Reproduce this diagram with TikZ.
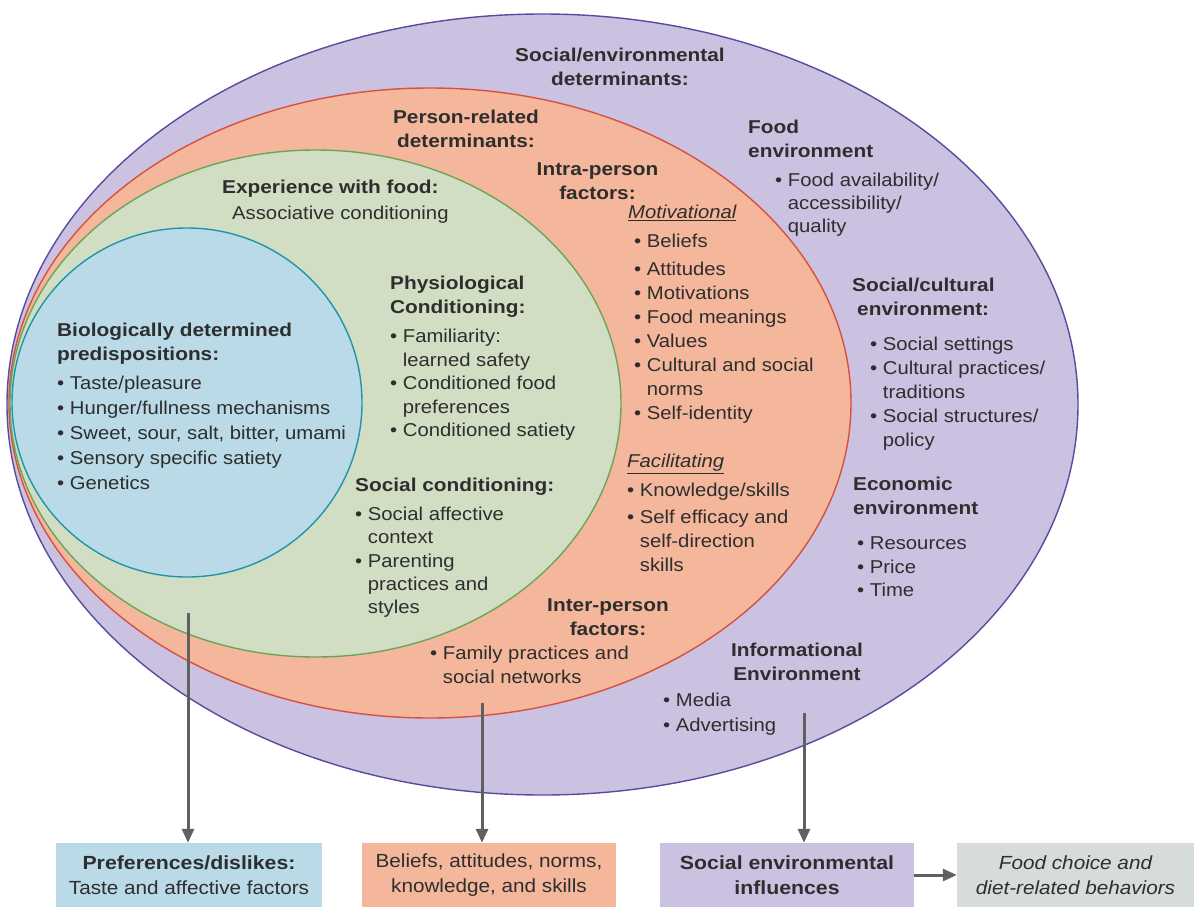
\documentclass[tikz,border=0pt]{standalone}
\usepackage{fontspec}
\setmainfont{Liberation Sans}[FakeStretch=1.09]
\newfontfamily\headfont{Liberation Sans}[FakeStretch=1.12]
\usetikzlibrary{shapes.geometric,arrows.meta}
\definecolor{purfill}{HTML}{CBC1E0}
\definecolor{purline}{HTML}{5A4B9E}
\definecolor{orfill}{HTML}{F4B79B}
\definecolor{orline}{HTML}{D8503F}
\definecolor{grfill}{HTML}{D2DEC4}
\definecolor{grline}{HTML}{6BA55A}
\definecolor{blfill}{HTML}{B9DAE6}
\definecolor{blline}{HTML}{1E96AA}
\definecolor{grayfill}{HTML}{D5DCDA}
\definecolor{txt}{HTML}{2E2E2E}
\definecolor{arr}{HTML}{606060}
\newcommand{\bulind}{\hphantom{• }}
\tikzset{
  ring/.style={ellipse, inner sep=0pt, line width=1.4pt},
  txtblock/.style={inner sep=0pt, anchor=base west, align=left, text=txt,
    font=\fontsize{18.6}{24}\selectfont},
  head/.style={txtblock, font=\headfont\bfseries\fontsize{18.6}{24}\selectfont},
  ital/.style={txtblock, font=\itshape\fontsize{18.6}{24}\selectfont},
  outbox/.style={rectangle, inner sep=0pt, minimum height=64pt, align=center,
    text=txt, font=\fontsize{19}{25}\selectfont},
  conn/.style={draw=arr, line width=3pt, -{Triangle[length=14pt,width=12pt]}}
}
\begin{document}
% note: the base anchor of a multi-line node is the baseline of its LAST line
\begin{tikzpicture}[x=1pt,y=-1pt]
\useasboundingbox (0,0) rectangle (1194,907);
% rings
\node[ring, draw=purline, fill=purfill, minimum width=1071pt, minimum height=781pt] (purple) at (542.5,404.5) {};
\node[ring, draw=orline, fill=orfill, minimum width=842pt, minimum height=630pt] (orange) at (430,403) {};
\node[ring, draw=grline, fill=grfill, minimum width=611pt, minimum height=507pt] (green) at (315.5,403.5) {};
\node[ring, draw=blline, fill=blfill, minimum width=350pt, minimum height=349pt] (blue) at (187,402.5) {};
% social / environmental
\node[head, anchor=base, align=center] (sed) at (620,85.5) {Social/environmental\\determinants:};
\node[head] (foodenv) at (748,157.5) {Food\\environment};
\node[txtblock, font=\fontsize{18.6}{23}\selectfont] (foodlist) at (775,232.5) {• Food availability/\\\bulind accessibility/\\\bulind quality};
\node[head] (socenv) at (852,315.5) {Social/cultural\\\hspace*{5pt}environment:};
\node[txtblock] (soclist) at (870,446.5) {• Social settings\\• Cultural practices/\\\bulind traditions\\• Social structures/\\\bulind policy};
\node[head] (econ) at (853,514.5) {Economic\\environment};
\node[txtblock, font=\fontsize{18.6}{23.5}\selectfont] (econlist) at (857,596.5) {• Resources\\• Price\\• Time};
\node[head, anchor=base, align=center] (info) at (797,680.5) {Informational\\Environment};
\node[txtblock, font=\fontsize{18.6}{25}\selectfont] (infolist) at (663,731.5) {• Media\\• Advertising};
% person related
\node[head, anchor=base, align=center] (prd) at (466,147.5) {Person-related\\determinants:};
\node[head, anchor=base, align=center] (intra) at (597.5,199.5) {Intra-person\\factors:};
\node[ital] (motiv) at (628,218.5) {\underline{Motivational}};
\node[txtblock] (motlist) at (634,419.5) {• Beliefs\\[4pt]• Attitudes\\• Motivations\\• Food meanings\\• Values\\• Cultural and social\\\bulind norms\\• Self-identity};
\node[ital] (facil) at (627,467.5) {\underline{Facilitating}};
\node[txtblock] (faclist) at (627,571.5) {• Knowledge/skills\\[3pt]• Self efficacy and\\\bulind self-direction\\\bulind skills};
\node[head, anchor=base, align=center] (inter) at (608,635.5) {Inter-person\\factors:};
\node[txtblock] (famlist) at (430,683.5) {• Family practices and\\\bulind social networks};
% experience with food
\node[head] (exp) at (222,193.5) {Experience with food:};
\node[txtblock] (assoc) at (232,219.5) {Associative conditioning};
\node[head] (phys) at (390,313.5) {Physiological\\Conditioning:};
\node[txtblock, font=\fontsize{18.6}{23.5}\selectfont] (physlist) at (390,436.5) {• Familiarity:\\\bulind learned safety\\• Conditioned food\\\bulind preferences\\• Conditioned satiety};
\node[head] (soccond) at (355,491.5) {Social conditioning:};
\node[txtblock, font=\fontsize{18.6}{23.3}\selectfont] (socclist) at (355,613.7) {• Social affective\\\bulind context\\• Parenting\\\bulind practices and\\\bulind styles};
% biological
\node[head] (bio) at (57,360.5) {Biologically determined\\predispositions:};
\node[txtblock, font=\fontsize{18.6}{25}\selectfont] (biolist) at (57,489.5) {• Taste/pleasure\\• Hunger/fullness mechanisms\\• Sweet, sour, salt, bitter, umami\\• Sensory specific satiety\\• Genetics};
% output boxes
\node[outbox, fill=blfill, minimum width=266pt] (b1) at (189,875) {{\headfont\bfseries Preferences/dislikes:}\\Taste and affective factors};
\node[outbox, fill=orfill, minimum width=254pt] (b2) at (489,875) {Beliefs, attitudes, norms,\\knowledge, and skills};
\node[outbox, fill=purfill, minimum width=254pt, font=\headfont\bfseries\fontsize{19}{25}\selectfont] (b3) at (787,875) {Social environmental\\influences};
\node[outbox, fill=grayfill, minimum width=237pt, font=\itshape\fontsize{19}{25}\selectfont] (b4) at (1075.5,875) {Food choice and\\diet-related behaviors};
% connectors
\coordinate (s1) at (188,613);
\coordinate (s2) at (482,703);
\coordinate (s3) at (804,713);
\draw[conn] (s1) -- (s1 |- b1.north);
\draw[conn] (s2) -- (s2 |- b2.north);
\draw[conn] (s3) -- (s3 |- b3.north);
\draw[conn] (b3.east) -- (b4.west);
\end{tikzpicture}
\end{document}
